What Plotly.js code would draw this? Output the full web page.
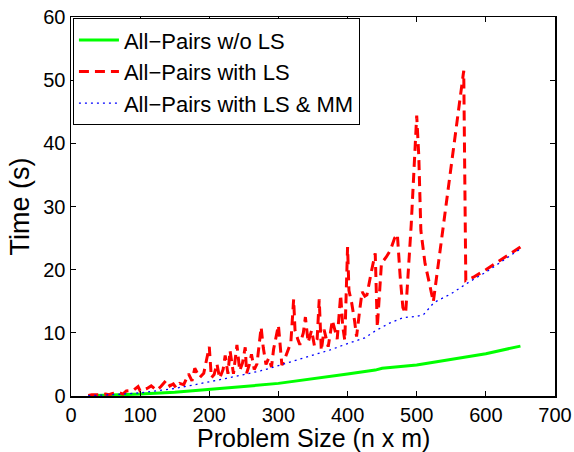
<!DOCTYPE html>
<html>
<head>
<meta charset="utf-8">
<script src="https://cdn.plot.ly/plotly-3.0.1.min.js"></script>
<style>html,body{margin:0;padding:0;background:#fff;}#chart{width:574px;height:452px;}</style>
</head>
<body>
<div id="chart"></div>
<script>
// Green: All-Pairs w/o LS
const greenX = [25, 50, 100, 150, 200, 250, 300, 350, 400, 440, 450, 500, 550, 600, 650];
const greenY = [0.05, 0.1, 0.3, 0.6, 1.0, 1.5, 2.0, 2.7, 3.5, 4.1, 4.4, 4.9, 5.8, 6.7, 7.9];

// Red: All-Pairs with LS
const redX = [25, 30, 40, 50, 55, 60, 70, 75, 80, 90, 97, 100, 110, 116, 124, 130, 138, 143, 148, 152,
  157, 163, 170, 175, 179, 186, 192, 200, 203, 207, 211, 215, 220, 223, 227, 230, 235, 240, 244, 248,
  252, 254, 258, 261, 265, 269, 275, 278, 282, 286, 290, 293, 300, 305, 308, 312, 318, 322, 324, 328,
  331, 336, 339, 343, 348, 352, 356, 359, 362, 366, 372, 378, 385, 390, 393, 396, 400, 402, 406, 410,
  413, 418, 421, 425, 428, 435, 440, 443, 449, 456, 462, 468, 472, 476, 480, 484, 492, 500, 503, 506,
  512, 518, 524, 535, 546, 557, 568, 571, 582, 600, 620, 635, 650];
const redY = [0.1, 0.2, 0.2, 0.3, 0.2, 0.4, 0.5, 0.3, 0.8, 0.9, 1.5, 0.8, 1.2, 1.6, 0.9, 1.5, 2.5, 1.6, 1.9, 1.3,
  2.0, 1.8, 3.5, 2.4, 4.4, 2.9, 3.6, 7.8, 2.9, 3.4, 5.1, 2.8, 4.2, 6.4, 3.5, 7.2, 3.5, 8.1, 4.0, 5.2,
  7.7, 3.6, 5.0, 6.6, 4.2, 5.1, 10.9, 7.7, 5.0, 6.0, 4.6, 7.4, 11.2, 4.9, 5.5, 6.6, 8.5, 15.3, 10.4, 9.0,
  8.1, 10.0, 12.5, 8.5, 10.4, 8.0, 9.0, 15.3, 7.2, 10.5, 7.8, 12.0, 9.0, 16.0, 11.0, 8.8, 23.6, 16.7, 14.7, 12.0,
  9.4, 14.0, 16.5, 15.8, 16.0, 20.0, 22.6, 10.9, 21.0, 22.0, 23.1, 25.0, 25.6, 19.0, 14.0, 13.1, 27.0, 44.4, 38.0, 26.2,
  21.0, 18.0, 14.9, 24.0, 33.0, 42.0, 51.5, 18.3, 18.8, 20.0, 21.5, 22.5, 23.6];

// Blue: All-Pairs with LS & MM
const blueX = [25, 50, 75, 100, 125, 150, 175, 200, 225, 250, 275, 300, 325, 350, 375, 400, 425, 440, 460, 480, 500, 510, 525, 550, 575, 600, 625, 650];
const blueY = [0.05, 0.15, 0.3, 0.5, 0.8, 1.2, 1.7, 2.2, 2.8, 3.4, 4.0, 4.8, 5.6, 6.5, 7.3, 8.3, 9.2, 10.3, 11.5, 12.4, 12.6, 12.9, 14.8, 16.2, 18.0, 19.6, 21.5, 23.3];

const seriesNames = ['All\u2212Pairs w/o LS', 'All\u2212Pairs with LS', 'All\u2212Pairs with LS & MM'];
const xTicks = [0, 100, 200, 300, 400, 500, 600, 700];
const yTicks = [0, 10, 20, 30, 40, 50, 60];
const xTitle = 'Problem Size (n x m)';
const yTitle = 'Time (s)';

const font = 'Liberation Sans, Arial, sans-serif';

const traces = [
  {x: greenX, y: greenY, name: seriesNames[0], mode: 'lines', line: {color: '#00ff00', width: 3}},
  {x: redX, y: redY, name: seriesNames[1], mode: 'lines', line: {color: '#ff0000', width: 3, dash: '10px,6px'}},
  {x: blueX, y: blueY, name: seriesNames[2], mode: 'lines', line: {color: '#0000ff', width: 1.3, dash: '2px,4px'}}
];

const axisCommon = {
  showline: true, linecolor: '#000', linewidth: 1.5, mirror: 'ticks',
  ticks: 'inside', ticklen: 5, tickcolor: '#000', tickwidth: 1,
  showgrid: false, zeroline: false,
  tickfont: {family: font, size: 20, color: '#000'}
};

const layout = {
  width: 574, height: 452,
  margin: {l: 71, r: 19, t: 17, b: 56},
  paper_bgcolor: '#fff', plot_bgcolor: '#fff',
  showlegend: true,
  legend: {
    x: 0.004, y: 0.997, xanchor: 'left', yanchor: 'top',
    bgcolor: '#fff', bordercolor: '#000', borderwidth: 1,
    font: {family: font, size: 22, color: '#000'},
    tracegroupgap: 0, itemwidth: 40
  },
  xaxis: Object.assign({}, axisCommon, {
    range: [0, 700], tickvals: xTicks, ticktext: xTicks.map(String)
  }),
  yaxis: Object.assign({}, axisCommon, {
    range: [0, 60], tickvals: yTicks, ticktext: yTicks.map(String),
    title: {text: yTitle, font: {family: font, size: 27, color: '#000'}, standoff: 6}
  }),
  annotations: [{
    text: xTitle, xref: 'paper', yref: 'paper', x: 0.5, y: -0.1465,
    xanchor: 'center', yanchor: 'bottom', showarrow: false, borderpad: 0, borderwidth: 0,
    font: {family: font, size: 25, color: '#000'}
  }]
};

Plotly.newPlot('chart', traces, layout, {displayModeBar: false, staticPlot: true});
</script>
</body>
</html>
